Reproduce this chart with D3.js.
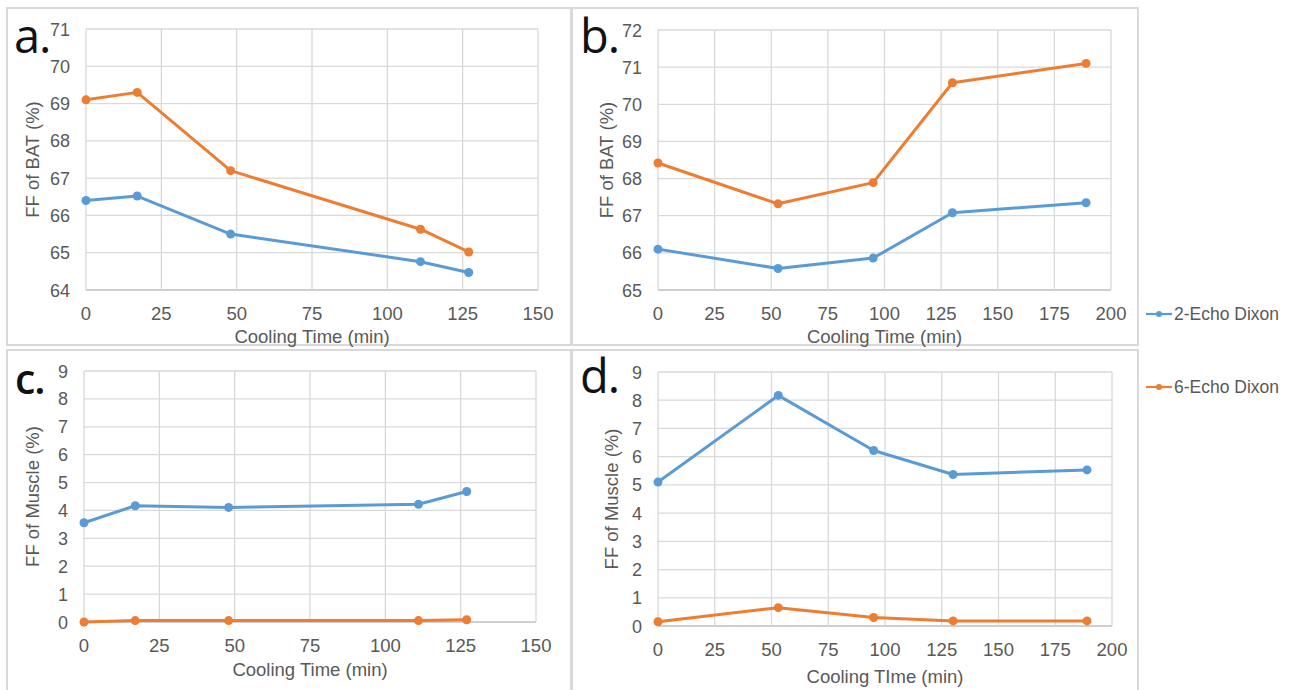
<!DOCTYPE html>
<html lang="en">
<head>
<meta charset="utf-8">
<title>FF vs cooling time</title>
<script src="https://cdn.jsdelivr.net/npm/d3@7"></script>
<style>
  body { margin: 0; background: #fff; }
  text { font-family: "Liberation Sans", Arial, sans-serif; fill: #595959; }
  .letter { font-family: "Open Sans", sans-serif; fill: #111; }
</style>
</head>
<body>
<div id="vizContainer"></div>
<script>
// ---- data ----
var timesAC = [0, 17, 48, 111, 127];
var timesBD = [0, 53, 95, 130, 189];
var bat2 = [66.4, 66.52, 65.5, 64.76, 64.47];
var bat6 = [69.1, 69.3, 67.2, 65.63, 65.02];
var batB2 = [66.1, 65.58, 65.86, 67.08, 67.35];
var batB6 = [68.42, 67.32, 67.89, 70.58, 71.1];
var mus2 = [3.56, 4.17, 4.11, 4.22, 4.68];
var mus6 = [0.0, 0.05, 0.05, 0.05, 0.08];
var musD2 = [5.1, 8.17, 6.22, 5.37, 5.53];
var musD6 = [0.15, 0.65, 0.3, 0.18, 0.18];
var seriesNames = ["2-Echo Dixon", "6-Echo Dixon"];
var colors = ["#5b9bd5", "#ed7d31"];

var width = 1298, height = 690;
var svg = d3.select("#vizContainer").append("svg")
  .attr("width", width).attr("height", height);

// panel boxes
var boxes = [[7, 8, 564, 337], [572, 8, 566, 337], [7, 350, 564, 345], [572, 350, 566, 345]];
boxes.forEach(function(b){
  svg.append("rect").attr("x", b[0]).attr("y", b[1]).attr("width", b[2]).attr("height", b[3])
    .attr("fill", "none").attr("stroke", "#d9d9d9").attr("stroke-width", 2);
});

var panels = [
  {letter: "a.", lx: 14, ly: 53, lsize: 47, lw: 400, x: timesAC, s: [bat2, bat6], xmax: 150, ymin: 64, ymax: 71,
   L: 86, R: 538, T: 29, B: 290, ylab: "FF of BAT (%)", xlab: "Cooling Time (min)", yl: 33, xl: 337},
  {letter: "b.", lx: 580, ly: 53, lsize: 47, lw: 400, x: timesBD, s: [batB2, batB6], xmax: 200, ymin: 65, ymax: 72,
   L: 658, R: 1111, T: 30, B: 290, ylab: "FF of BAT (%)", xlab: "Cooling Time (min)", yl: 607, xl: 337},
  {letter: "c.", lx: 15, ly: 394, lsize: 41, lw: 600, x: timesAC, s: [mus2, mus6], xmax: 150, ymin: 0, ymax: 9,
   L: 84, R: 536, T: 371, B: 622, ylab: "FF of Muscle (%)", xlab: "Cooling Time (min)", yl: 33, xl: 670},
  {letter: "d.", lx: 580, ly: 393, lsize: 47, lw: 400, x: timesBD, s: [musD2, musD6], xmax: 200, ymin: 0, ymax: 9,
   L: 658, R: 1112, T: 372, B: 626, ylab: "FF of Muscle (%)", xlab: "Cooling TIme (min)", yl: 612, xl: 677}
];

panels.forEach(function(p){
  var g = svg.append("g");
  var x = d3.scaleLinear().domain([0, p.xmax]).range([p.L, p.R]);
  var y = d3.scaleLinear().domain([p.ymin, p.ymax]).range([p.B, p.T]);
  var xt = d3.range(0, p.xmax + 1, 25);
  var yt = d3.range(p.ymin, p.ymax + 1, 1);

  // gridlines
  g.append("g").selectAll("line").data(yt).enter().append("line")
    .attr("x1", p.L).attr("x2", p.R).attr("y1", d => y(d)).attr("y2", d => y(d))
    .attr("stroke", d => d === p.ymin ? "#bfbfbf" : "#d9d9d9").attr("stroke-width", 1.3);
  g.append("g").selectAll("line").data(xt).enter().append("line")
    .attr("x1", d => x(d)).attr("x2", d => x(d)).attr("y1", p.T).attr("y2", p.B)
    .attr("stroke", "#d9d9d9").attr("stroke-width", 1.3);

  // tick labels
  g.append("g").selectAll("text").data(yt).enter().append("text")
    .attr("x", p.L - 16).attr("y", d => y(d) + 6.5).attr("text-anchor", "end")
    .attr("font-size", 18).text(d => d);
  g.append("g").selectAll("text").data(xt).enter().append("text")
    .attr("x", d => x(d)).attr("y", p.B + 30).attr("text-anchor", "middle")
    .attr("font-size", 18.5).text(d => d);

  // axis titles
  g.append("text").attr("x", (p.L + p.R) / 2).attr("y", p.xl + 6).attr("text-anchor", "middle")
    .attr("font-size", 18.5).text(p.xlab);
  g.append("text").attr("transform", "translate(" + (p.yl + 6) + "," + ((p.T + p.B) / 2) + ") rotate(-90)")
    .attr("text-anchor", "middle").attr("font-size", 18.5).text(p.ylab);

  // series
  var line = d3.line().x((d, i) => x(p.x[i])).y(d => y(d));
  p.s.forEach(function(vals, k){
    g.append("path").datum(vals).attr("d", line).attr("fill", "none")
      .attr("stroke", colors[k]).attr("stroke-width", 3).attr("stroke-linejoin", "round");
    g.append("g").selectAll("circle").data(vals).enter().append("circle")
      .attr("cx", (d, i) => x(p.x[i])).attr("cy", d => y(d)).attr("r", 4.5).attr("fill", colors[k]);
  });

  g.append("text").attr("class", "letter").attr("x", p.lx).attr("y", p.ly)
    .attr("font-size", p.lsize).attr("font-weight", p.lw).attr("letter-spacing", -1).text(p.letter);
});

// legend
var legY = [314, 387];
seriesNames.forEach(function(n, k){
  var lg = svg.append("g");
  lg.append("line").attr("x1", 1146).attr("x2", 1172).attr("y1", legY[k]).attr("y2", legY[k])
    .attr("stroke", colors[k]).attr("stroke-width", 2.2);
  lg.append("circle").attr("cx", 1159).attr("cy", legY[k]).attr("r", 3).attr("fill", colors[k]);
  lg.append("text").attr("x", 1174).attr("y", legY[k] + 6).attr("font-size", 17.5).text(n);
});
</script>
</body>
</html>
